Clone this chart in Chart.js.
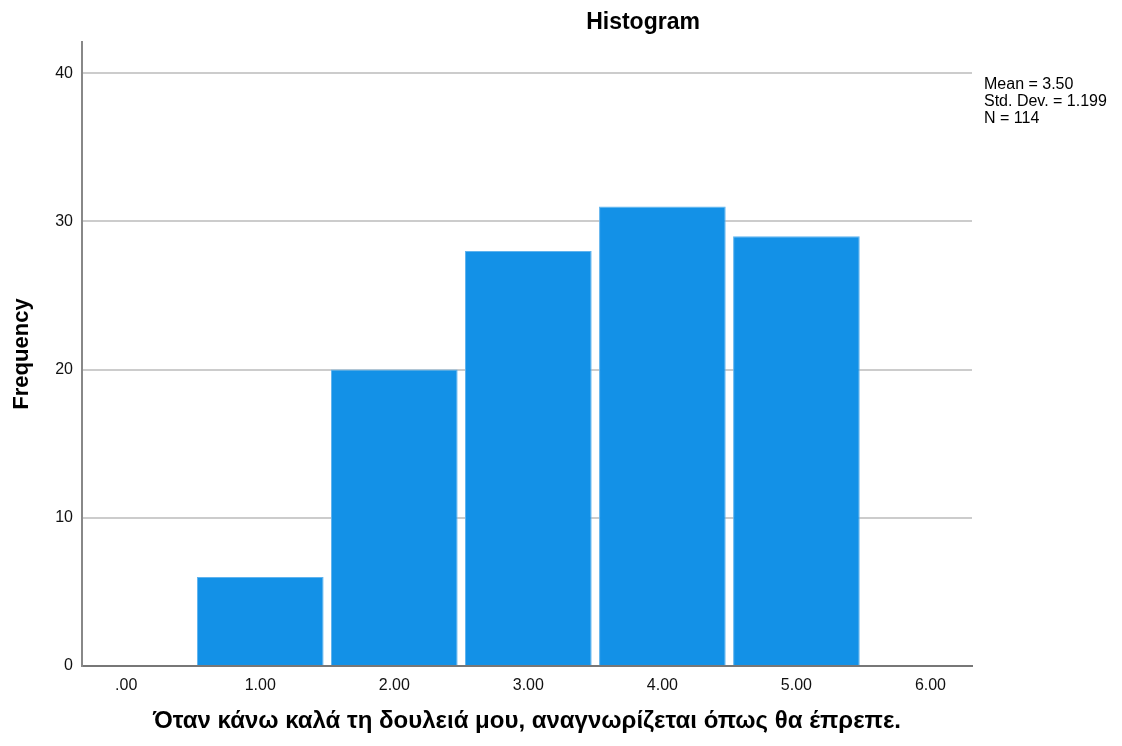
<!DOCTYPE html>
<html lang="el">
<head>
  <meta charset="utf-8">
  <title>Histogram</title>
  <script src="https://cdn.jsdelivr.net/npm/chart.js"></script>
  <style>
    body { margin: 0; background: #fff; }
    #wrap { width: 1122px; height: 746px; position: relative; }
  </style>
</head>
<body>
  <div id="wrap"><canvas id="hist"></canvas></div>

  <script>
    // Data
    const binCenters = [1, 2, 3, 4, 5];
    const frequencies = [6, 20, 28, 31, 29];
    const xTickValues = [0, 1, 2, 3, 4, 5, 6];
    const yTickValues = [0, 10, 20, 30, 40];
    const statsLines = ['Mean = 3.50', 'Std. Dev. = 1.199', 'N = 114'];
    const chartTitle = 'Histogram';
    const xTitle = 'Όταν κάνω καλά τη δουλειά μου, αναγνωρίζεται όπως θα έπρεπε.';
    const yTitle = 'Frequency';

    const FONT = '"Liberation Sans", Arial, sans-serif';

    // title + stats box drawn after the chart
    const extrasPlugin = {
      id: 'extras',
      afterDraw(chart) {
        const ctx = chart.ctx;
        const area = chart.chartArea;
        ctx.save();
        ctx.fillStyle = '#000';
        ctx.font = 'bold 23px ' + FONT;
        ctx.textAlign = 'center';
        ctx.textBaseline = 'middle';
        ctx.fillText(chartTitle, 643, 23);

        ctx.font = '16px ' + FONT;
        ctx.textAlign = 'left';
        statsLines.forEach((s, i) => {
          ctx.fillText(s, area.right + 12, 85 + i * 17);
        });
        ctx.restore();
      }
    };

    window.onload = function() {
      const ctx = document.getElementById('hist').getContext('2d');
      new Chart(ctx, {
        type: 'bar',
        data: {
          datasets: [{
            data: binCenters.map((x, i) => ({ x: x, y: frequencies[i] })),
            backgroundColor: '#1391e7',
            borderColor: '#5fb3ee',
            borderWidth: 1,
            barPercentage: 0.945,
            categoryPercentage: 1.0
          }]
        },
        options: {
          responsive: true,
          maintainAspectRatio: false,
          animation: false,
          layout: { padding: { left: 0, right: 150, top: 42, bottom: 0 } },
          plugins: {
            legend: { display: false },
            tooltip: { enabled: false }
          },
          scales: {
            x: {
              type: 'linear',
              offset: false,
              min: -0.33,
              max: 6.31,
              afterBuildTicks: scale => { scale.ticks = xTickValues.map(v => ({ value: v })); },
              afterFit: scale => { scale.height = 80; },
              grid: { display: false, drawTicks: false, offset: false },
              border: { display: true, color: '#777', width: 2 },
              ticks: {
                padding: 10,
                color: '#111',
                font: { family: FONT, size: 16 },
                callback: v => (v === 0 ? '.00' : v.toFixed(2))
              },
              title: {
                display: true,
                text: xTitle,
                color: '#000',
                font: { family: FONT, size: 24, weight: 'bold' },
                padding: { top: 4, bottom: 10 }
              }
            },
            y: {
              min: 0,
              max: 42.1,
              afterBuildTicks: scale => { scale.ticks = yTickValues.map(v => ({ value: v })); },
              afterFit: scale => { scale.width = 82; },
              grid: {
                color: '#cccccc',
                lineWidth: 2,
                drawTicks: false
              },
              border: { display: true, color: '#888', width: 2 },
              ticks: {
                padding: 9,
                color: '#111',
                font: { family: FONT, size: 16 }
              },
              title: {
                display: true,
                text: yTitle,
                color: '#000',
                font: { family: FONT, size: 22, weight: 'bold' },
                padding: { top: 9, bottom: 0 }
              }
            }
          }
        },
        plugins: [extrasPlugin]
      });
    };
  </script>
</body>
</html>
